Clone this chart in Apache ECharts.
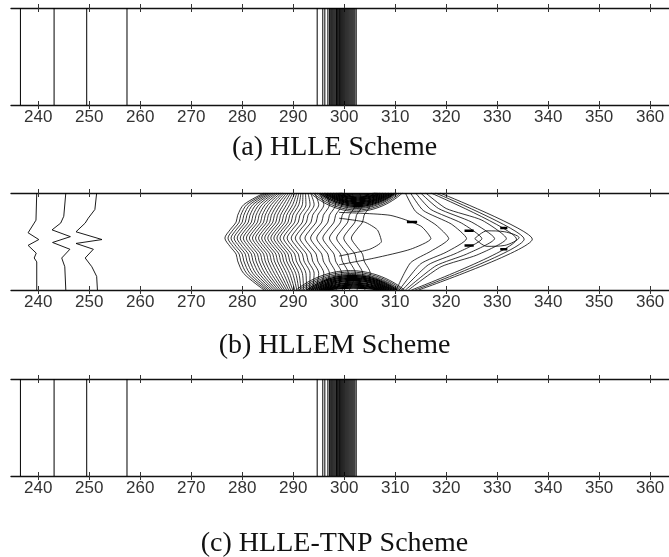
<!DOCTYPE html>
<html>
<head>
<meta charset="utf-8">
<script src="https://cdn.jsdelivr.net/npm/echarts@6/dist/echarts.min.js"></script>
<style>
html, body { margin: 0; padding: 0; background: #fff; }
#chart { width: 669px; height: 557px; }
</style>
</head>
<body>
<div id="chart"></div>
<script>
const xTicks = [240, 250, 260, 270, 280, 290, 300, 310, 320, 330, 340, 350, 360];
const captions = ['(a) HLLE Scheme', '(b) HLLEM Scheme', '(c) HLLE-TNP Scheme'];

// panels (a) and (c): straight vertical contours
const waveX = [236.5, 243.1, 249.5, 257.4];
const shockX = [294.7, 295.8, 296.2, 296.8, 297.1, 297.35, 297.55, 297.75, 297.95, 298.15, 298.35,
  298.5, 298.65, 298.8, 298.95, 299.1, 299.3, 299.5, 299.7, 299.9, 300.1, 300.3, 300.5, 300.7,
  300.9, 301.1, 301.3, 301.5, 301.7, 301.9, 302.1, 302.35];

// panel (b): three wavy contours on the left
const wavyLines = [
  [[239.7, 1], [239.55, 0.72], [239.2, 0.69], [238.0, 0.59], [240.1, 0.52], [238.0, 0.46], [239.6, 0.38], [239.2, 0.33], [239.7, 0.29], [239.7, 0]],
  [[245.4, 1], [245.0, 0.76], [244.4, 0.69], [242.7, 0.62], [246.3, 0.55], [242.8, 0.49], [246.2, 0.42], [244.6, 0.33], [245.2, 0.24], [245.4, 0]],
  [[251.45, 1], [251.1, 0.83], [249.8, 0.74], [249.2, 0.69], [247.4, 0.6], [252.5, 0.52], [247.4, 0.48], [250.8, 0.42], [249.2, 0.33], [250.5, 0.24], [251.45, 0.14], [251.6, 0]]
];

// panel (b): "<" contours (x at mid height, at top edge, at bottom edge)
const chevTip = [276.6, 277.2, 277.8, 278.4, 279.0, 279.6, 280.2, 280.8, 281.4, 282.0,
  282.6, 283.2, 283.8, 284.4, 285.0, 285.6, 286.2, 286.8, 287.4, 288.1,
  288.8, 289.6, 290.4, 291.3, 292.3, 293.4, 294.6, 295.8, 297.1, 298.5, 299.9, 301.4];
const chevTop = [284.3, 284.7, 285.1, 285.5, 285.9, 286.3, 286.7, 287.1, 287.5, 287.9,
  288.3, 288.7, 289.1, 289.5, 289.9, 290.3, 290.7, 291.1, 291.5, 291.9,
  292.4, 292.9, 293.4, 294.2, 295.2, 296.4, 297.6, 298.8, 300.0, 301.5, 303.0, 304.5];
const chevBot = [284.3, 284.7, 285.1, 285.5, 285.9, 286.3, 286.7, 287.1, 287.5, 287.9,
  288.3, 288.7, 289.1, 289.5, 289.9, 290.3, 290.7, 291.1, 291.5, 292.0,
  292.6, 293.2, 293.8, 294.4, 295.2, 296.2, 297.2, 298.4, 299.6, 301.0, 302.5, 304.0];
const chevUpperRows = [0.535, 0.62, 0.70, 0.77, 0.88];
const chevLowerRows = [0.535, 0.45, 0.37, 0.30, 0.17];
const chevShift = [0, 1.0, 2.2, 2.5, 3.7];

// panel (b): dense blobs at the top and bottom edges
const topBlobLeft = [293.4, 293.9, 294.4, 294.8, 295.2, 295.6, 296.0, 296.3, 296.6, 296.9,
  297.2, 297.5, 297.8, 298.1, 298.4, 298.7, 299.0, 299.3];
const topBlobRight = [311.4, 311.0, 310.6, 310.3, 310.0, 309.7, 309.4, 309.1, 308.8, 308.5,
  308.2, 307.9, 307.6, 307.3, 307.0, 306.7, 306.4, 306.1];
const topBlobDepth = [0.81, 0.825, 0.84, 0.85, 0.86, 0.87, 0.88, 0.89, 0.90, 0.91,
  0.92, 0.93, 0.94, 0.95, 0.96, 0.97, 0.98, 0.99];
const botBlobLeft = [290.6, 291.1, 291.6, 292.1, 292.6, 293.0, 293.4, 293.8, 294.2, 294.6,
  295.0, 295.3, 295.6, 295.9, 296.2, 296.5, 296.8, 297.1];
const botBlobRight = [311.8, 311.4, 311.0, 310.7, 310.4, 310.1, 309.8, 309.5, 309.2, 308.9,
  308.6, 308.3, 308.0, 307.7, 307.4, 307.1, 306.8, 306.5];
const botBlobHeight = [0.20, 0.185, 0.17, 0.16, 0.15, 0.14, 0.13, 0.12, 0.11, 0.10,
  0.09, 0.08, 0.07, 0.06, 0.05, 0.04, 0.03, 0.02];

// panel (b): ">" contours on the right
const rightLines = [
  [[318.8, 1], [336.9, 0.525], [314.6, 0]],
  [[317.9, 1], [335.3, 0.525], [313.9, 0]],
  [[317.0, 1], [333.8, 0.525], [313.2, 0]],
  [[316.0, 1], [320, 0.84], [327, 0.72], [331.8, 0.53], [326, 0.36], [319, 0.24], [312.6, 0]],
  [[315.0, 1], [318.5, 0.84], [325, 0.70], [329.5, 0.53], [324, 0.37], [318, 0.25], [312.0, 0]],
  [[314.0, 1], [317, 0.83], [323, 0.69], [327.0, 0.53], [322, 0.38], [316.5, 0.26], [311.4, 0]],
  [[313.0, 1], [315.5, 0.82], [321, 0.68], [324.0, 0.53], [320, 0.39], [315, 0.27], [310.8, 0]],
  [[312.0, 1], [314, 0.81], [318, 0.67], [320.5, 0.53], [317, 0.40], [313, 0.28], [310.2, 0]],
  [[299, 0.80], [309, 0.77], [315, 0.66], [317.0, 0.53], [313, 0.42], [306, 0.33], [299, 0.26]],
  [[299, 0.74], [304, 0.70], [306.5, 0.62], [307.3, 0.50], [305, 0.42], [299, 0.35]]
];
const loopLine = [[325.6, 0.53], [328, 0.61], [331.5, 0.60], [334.3, 0.54], [331.5, 0.46], [328, 0.45], [325.6, 0.53]];
const dashes = [
  [[312.3, 0.70], [314.3, 0.70]], [[323.6, 0.61], [325.4, 0.61]], [[323.6, 0.46], [325.4, 0.46]],
  [[330.6, 0.64], [332.0, 0.64]], [[330.6, 0.42], [332.0, 0.42]]
];

const chart = echarts.init(document.getElementById('chart'));

const gridTops = [8, 193, 379];
const panelHeight = 97;
const xMin = 234.65, xMax = 363.7;

const grids = [], xAxes = [], yAxes = [], series = [];

gridTops.forEach(function (top, g) {
  grids.push({ left: 11, right: 0, top: top, height: panelHeight });
  const base = { type: 'value', gridIndex: g, min: xMin, max: xMax, splitLine: { show: false } };
  const tick = { customValues: xTicks, length: 4, lineStyle: { color: '#333', width: 1 } };
  // bottom axis, labels and inward ticks
  xAxes.push(Object.assign({}, base, {
    position: 'bottom',
    axisLine: { show: true, onZero: false, lineStyle: { color: '#111', width: 1.3 } },
    axisTick: Object.assign({ inside: true }, tick),
    axisLabel: { customValues: xTicks, margin: 4, color: '#333', fontSize: 17, fontFamily: 'Liberation Sans' }
  }));
  // bottom axis, outward ticks
  xAxes.push(Object.assign({}, base, {
    position: 'bottom',
    axisLine: { show: false, onZero: false },
    axisTick: Object.assign({ inside: false }, tick),
    axisLabel: { show: false }
  }));
  // top axis, both tick directions
  xAxes.push(Object.assign({}, base, {
    position: 'top',
    axisLine: { show: true, onZero: false, lineStyle: { color: '#111', width: 1.3 } },
    axisTick: Object.assign({ inside: true }, tick),
    axisLabel: { show: false }
  }));
  xAxes.push(Object.assign({}, base, {
    position: 'top',
    axisLine: { show: false, onZero: false },
    axisTick: Object.assign({ inside: false }, tick),
    axisLabel: { show: false }
  }));
  yAxes.push({ type: 'value', gridIndex: g, min: 0, max: 1, show: false });
});

function addLine(g, pts, width, smooth) {
  series.push({
    type: 'line',
    xAxisIndex: g * 4,
    yAxisIndex: g,
    data: pts,
    symbol: 'none',
    showSymbol: false,
    silent: true,
    smooth: smooth || false,
    lineStyle: { color: '#000', width: width || 0.9 }
  });
}

// panels (a) and (c)
[0, 2].forEach(function (g) {
  waveX.concat(shockX).forEach(function (x) {
    addLine(g, [[x, 0], [x, 1]], 1);
  });
});

// panel (b)
wavyLines.forEach(function (pts) { addLine(1, pts, 0.9); });

chevTip.forEach(function (tip, i) {
  const pts = [[chevBot[i], 0]];
  for (let k = chevLowerRows.length - 1; k >= 0; k--) pts.push([tip + chevShift[k], chevLowerRows[k]]);
  for (let k = 1; k < chevUpperRows.length; k++) pts.push([tip + chevShift[k], chevUpperRows[k]]);
  pts.push([chevTop[i], 1]);
  addLine(1, pts, 0.8, 0.3);
});

topBlobLeft.forEach(function (l, i) {
  const r = topBlobRight[i];
  addLine(1, [[l, 1], [(l + r) / 2, topBlobDepth[i]], [r, 1]], i < 4 ? 0.8 : 1.2, 0.6);
});
botBlobLeft.forEach(function (l, i) {
  const r = botBlobRight[i];
  addLine(1, [[l, 0], [(l + r) / 2, botBlobHeight[i]], [r, 0]], i < 4 ? 0.8 : 1.2, 0.6);
});

rightLines.forEach(function (pts) { addLine(1, pts, 0.8, 0.2); });
addLine(1, loopLine, 0.8, 0.3);
dashes.forEach(function (pts) { addLine(1, pts, 2.5); });

const option = {
  backgroundColor: '#fff',
  animation: false,
  title: captions.map(function (t, i) {
    return {
      text: t,
      left: 'center',
      top: [129, 327, 525][i],
      textStyle: { fontFamily: 'Liberation Serif', fontWeight: 'normal', fontSize: 28, color: '#111' }
    };
  }),
  grid: grids,
  xAxis: xAxes,
  yAxis: yAxes,
  series: series
};

chart.setOption(option);
</script>
</body>
</html>
